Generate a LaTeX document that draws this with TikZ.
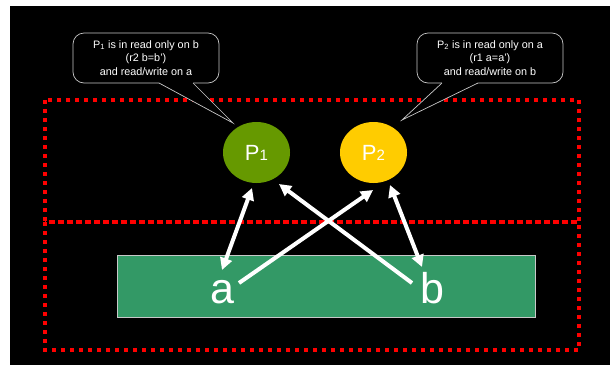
\documentclass[tikz,border=0pt]{standalone}
\usepackage{fontspec}
\setmainfont{Liberation Sans}
\usetikzlibrary{arrows.meta,shapes.geometric}
\definecolor{slidegreen}{RGB}{51,153,102}
\definecolor{procgreen}{RGB}{102,153,0}
\definecolor{procyellow}{RGB}{255,204,0}
\definecolor{zonered}{RGB}{255,0,0}
\definecolor{bubbleline}{RGB}{200,200,200}
\tikzset{
  zone/.style={draw=zonered, line width=4pt, dash pattern=on 4pt off 5pt},
  proc/.style={ellipse, minimum width=67pt, minimum height=61pt, inner sep=0pt,
    text=white, font=\fontsize{22}{22}\selectfont},
  bubble/.style={draw=bubbleline, line width=0.7pt, fill=black, rounded corners=11pt,
    minimum width=146pt, minimum height=50pt, inner sep=0pt, align=center,
    text=white, font=\fontsize{10.8}{13.6}\selectfont},
  tailline/.style={draw=bubbleline, line width=0.7pt},
  var/.style={text=white, font=\fontsize{43}{43}\selectfont, inner sep=0pt, anchor=base},
  link/.style={draw=white, line width=4pt, arrows={-Triangle[length=12pt,width=12pt]}},
  duallink/.style={draw=white, line width=4pt, arrows={Triangle[length=12pt,width=12pt]-Triangle[length=12pt,width=12pt]}},
}
\begin{document}
\begin{tikzpicture}[x=1pt,y=-1pt]
  % canvas
  \fill[white] (0,0) rectangle (610,365);
  \fill[black] (10,6) rectangle (610,365);
  \useasboundingbox (0,0) rectangle (610,365);

  % dotted zones
  \draw[zone] (45,100) rectangle (579,222);
  \draw[zone] (45,222) rectangle (579,350);

  % shared memory strip
  \node[draw=bubbleline, line width=0.6pt, fill=slidegreen, minimum width=418pt,
        minimum height=62pt, inner sep=0pt] (mem) at (326,286) {};
  \node[var] (a) at (222,303) {a};
  \node[var] (b) at (432,303) {b};

  % processes
  \node[proc, fill=procgreen] (P1) at (256.5,152.5) {P{\fontsize{15}{15}\selectfont 1}};
  \node[proc, fill=procyellow] (P2) at (373.5,152.5) {P{\fontsize{15}{15}\selectfont 2}};

  % speech bubbles
  \node[bubble] (c1) at (146,58) {P\textsubscript{1} is in read only on b\\(r2 b=b')\\and read/write on a};
  \coordinate (c1l) at (159,83);
  \coordinate (c1r) at (193,83);
  \coordinate (c1tip) at (233,123);
  \fill[black] (159,81.8) -- (193,81.8) -- (c1r) -- (c1tip) -- (c1l) -- cycle;
  \draw[tailline] (c1l) -- (c1tip) -- (c1r);

  \node[bubble] (c2) at (490,58) {P\textsubscript{2} is in read only on a\\(r1 a=a')\\and read/write on b};
  \coordinate (c2l) at (442,83);
  \coordinate (c2r) at (478,83);
  \coordinate (c2tip) at (402,120);
  \fill[black] (442,81.8) -- (478,81.8) -- (c2r) -- (c2tip) -- (c2l) -- cycle;
  \draw[tailline] (c2r) -- (c2tip) -- (c2l);

  % access arrows
  \coordinate (aP1a) at (222,270);
  \coordinate (aP1b) at (252,188);
  \coordinate (aP2s) at (239,283);
  \coordinate (aP2t) at (373,190);
  \coordinate (bP1s) at (412,283);
  \coordinate (bP1t) at (279,184);
  \coordinate (bP2a) at (422,267);
  \coordinate (bP2b) at (390,185);
  \draw[duallink] (aP1a) -- (aP1b);
  \draw[link] (aP2s) -- (aP2t);
  \draw[link] (bP1s) -- (bP1t);
  \draw[duallink] (bP2a) -- (bP2b);
\end{tikzpicture}
\end{document}
